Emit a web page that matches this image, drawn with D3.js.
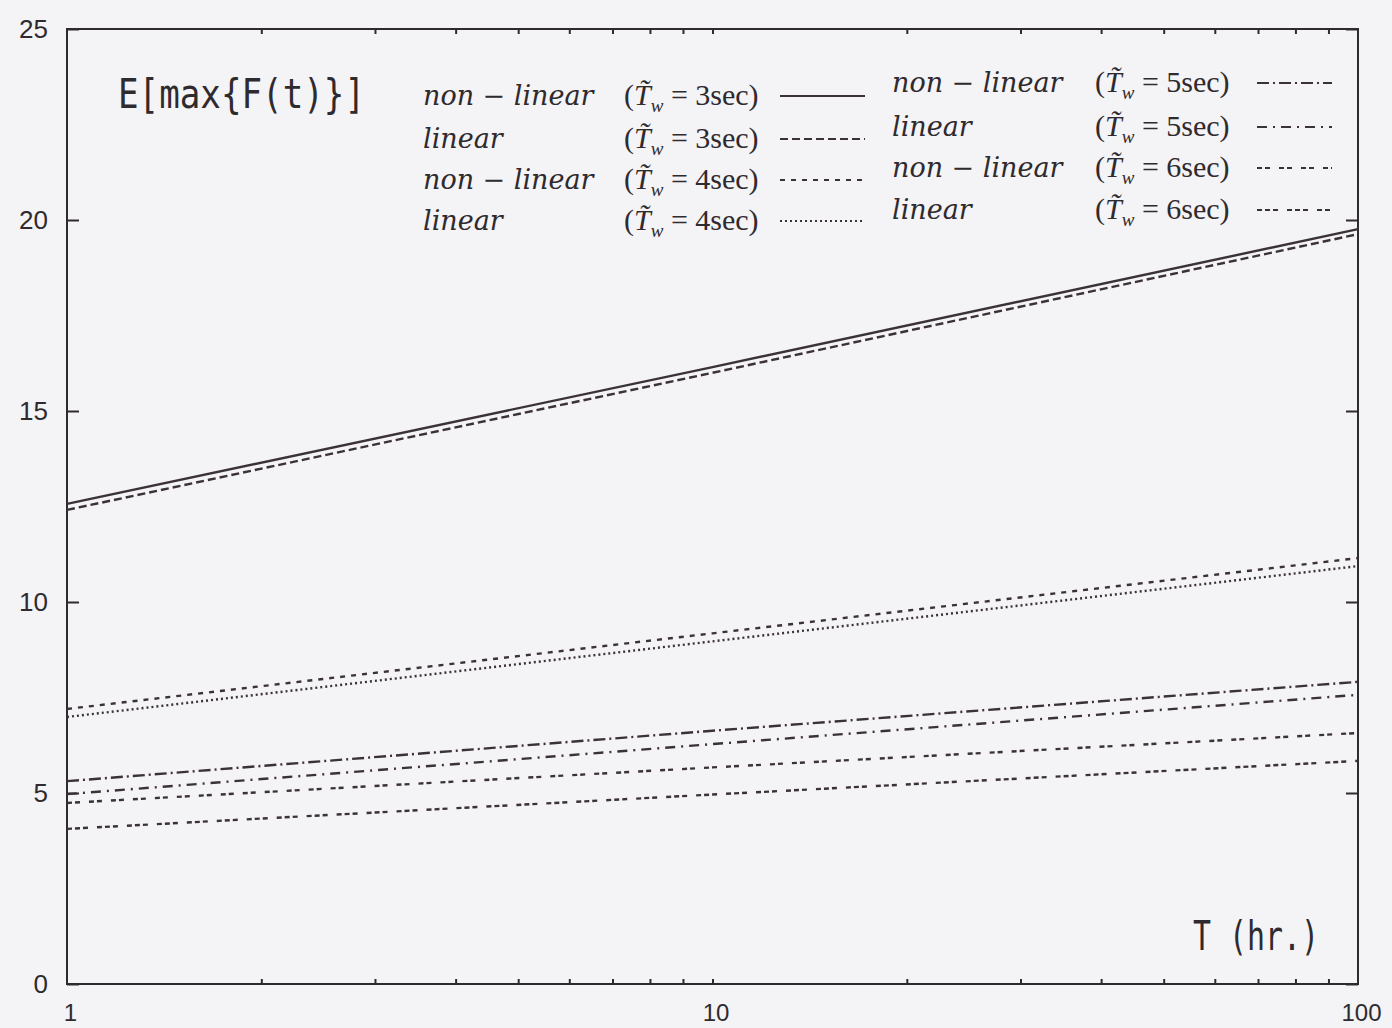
<!DOCTYPE html>
<html>
<head>
<meta charset="utf-8">
<script src="https://cdn.jsdelivr.net/npm/d3@7"></script>
<style>
  body { margin: 0; background: #f4f3f5; }
  svg { display: block; }
</style>
</head>
<body>
<svg id="chart"></svg>
<script>
// hours (log axis) and the peak values
const hours = [1, 10, 100];
const nonlinear3 = [12.57, 16.15, 19.76];
const linear3 = [12.41, 16.0, 19.63];
const nonlinear4 = [7.2, 9.18, 11.15];
const linear4 = [6.99, 8.97, 10.94];
const nonlinear5 = [5.31, 6.63, 7.91];
const linear5 = [4.97, 6.28, 7.57];
const nonlinear6 = [4.74, 5.67, 6.57];
const linear6 = [4.06, 4.96, 5.84];

const periods = ["3", "3", "4", "4", "5", "5", "6", "6"];
const kinds = ["non \u2212 linear", "linear", "non \u2212 linear", "linear",
               "non \u2212 linear", "linear", "non \u2212 linear", "linear"];

const yTicks = [0, 5, 10, 15, 20, 25];
const xLabels = [1, 10, 100];
const xMinor = [2, 3, 4, 5, 6, 7, 8, 9, 10, 20, 30, 40, 50, 60, 70, 80, 90];

const seriesValues = [nonlinear3, linear3, nonlinear4, linear4,
                      nonlinear5, linear5, nonlinear6, linear6];
const dashes = ["none", "8,4", "5,6", "2,3", "12,4,2,4", "10,6,2,6", "5,3,5,9", "5,3,5,3,5,9"];

const ink = "#2f2a2e";
const lineInk = "#3b3237";

const W = 1392, H = 1028;
const svg = d3.select("#chart").attr("width", W).attr("height", H);

const x = d3.scaleLog().domain([1, 100]).range([67, 1358]);
const y = d3.scaleLinear().domain([0, 25]).range([984, 29]);

// frame
svg.append("rect")
  .attr("x", x(1)).attr("y", y(25))
  .attr("width", x(100) - x(1)).attr("height", y(0) - y(25))
  .attr("fill", "none").attr("stroke", ink).attr("stroke-width", 2);

function styleAxis(size) {
  return g => {
    g.select(".domain").remove();
    g.selectAll(".tick line").attr("stroke", ink).attr("stroke-width", 2);
    g.selectAll("text")
      .attr("fill", ink)
      .style("font-family", "'Liberation Sans', Arial, sans-serif")
      .style("font-size", size + "px");
  };
}

svg.append("g")
  .attr("transform", `translate(0,${y(0)})`)
  .call(d3.axisBottom(x).tickValues(xMinor).tickSize(-5).tickFormat(""))
  .call(styleAxis(24));

svg.append("g")
  .attr("transform", `translate(3,${y(0)})`)
  .call(d3.axisBottom(x).tickValues(xLabels).tickSize(0).tickPadding(20).tickFormat(d3.format("d")))
  .call(styleAxis(24));

svg.append("g")
  .attr("transform", `translate(0,${y(25)})`)
  .call(d3.axisTop(x).tickValues(xMinor).tickSize(-5).tickFormat(""))
  .call(styleAxis(24));

svg.append("g")
  .attr("transform", `translate(${x(1)},0)`)
  .call(d3.axisLeft(y).tickValues(yTicks).tickSize(-12).tickPadding(19))
  .call(styleAxis(26));

svg.append("g")
  .attr("transform", `translate(${x(100)},0)`)
  .call(d3.axisRight(y).tickValues(yTicks).tickSize(-12).tickFormat(""))
  .call(styleAxis(26));

// curves
const line = d3.line()
  .x((d, i) => x(hours[i]))
  .y(d => y(d));

svg.selectAll(".series")
  .data(seriesValues)
  .join("path")
  .attr("class", "series")
  .attr("d", d => line(d))
  .attr("fill", "none")
  .attr("stroke", lineInk)
  .attr("stroke-width", 2.4)
  .attr("stroke-dasharray", (d, i) => dashes[i]);

// title and axis name
svg.append("text")
  .attr("x", 118).attr("y", 108)
  .attr("textLength", 247).attr("lengthAdjust", "spacingAndGlyphs")
  .attr("fill", ink)
  .style("font-family", "'DejaVu Sans Mono', monospace")
  .style("font-size", "40px")
  .text("E[max{F(t)}]");

svg.append("text")
  .attr("x", 1193).attr("y", 950)
  .attr("textLength", 126).attr("lengthAdjust", "spacingAndGlyphs")
  .attr("fill", ink)
  .style("font-family", "'DejaVu Sans Mono', monospace")
  .style("font-size", "40px")
  .text("T (hr.)");

// legend: two columns of four rows
const columns = [
  { word: 423, paren: 624, x1: 780, x2: 865, rows: [96, 139, 180, 221] },
  { word: 892, paren: 1095, x1: 1257, x2: 1332, rows: [83, 127, 168, 210] }
];

const legend = svg.append("g");
seriesValues.forEach((s, i) => {
  const col = columns[Math.floor(i / 4)];
  const cy = col.rows[i % 4];

  legend.append("text")
    .attr("x", col.word).attr("y", cy + 9)
    .attr("fill", ink)
    .style("font-family", "'DejaVu Serif', serif")
    .style("font-style", "italic")
    .style("font-size", "27px")
    .text(kinds[i]);

  const t = legend.append("text")
    .attr("x", col.paren).attr("y", cy + 9)
    .attr("fill", ink)
    .style("font-family", "'Liberation Serif', 'Times New Roman', serif")
    .style("font-size", "30px");
  t.append("tspan").text("(");
  t.append("tspan").style("font-style", "italic").text("T\u0303");
  t.append("tspan").style("font-style", "italic").style("font-size", "19px")
    .attr("dy", 7).text("w");
  t.append("tspan").attr("dy", -7).text(" = " + periods[i] + "sec)");

  legend.append("line")
    .attr("x1", col.x1).attr("x2", col.x2)
    .attr("y1", cy).attr("y2", cy)
    .attr("stroke", lineInk)
    .attr("stroke-width", 2.2)
    .attr("stroke-dasharray", dashes[i]);
});
</script>
</body>
</html>
